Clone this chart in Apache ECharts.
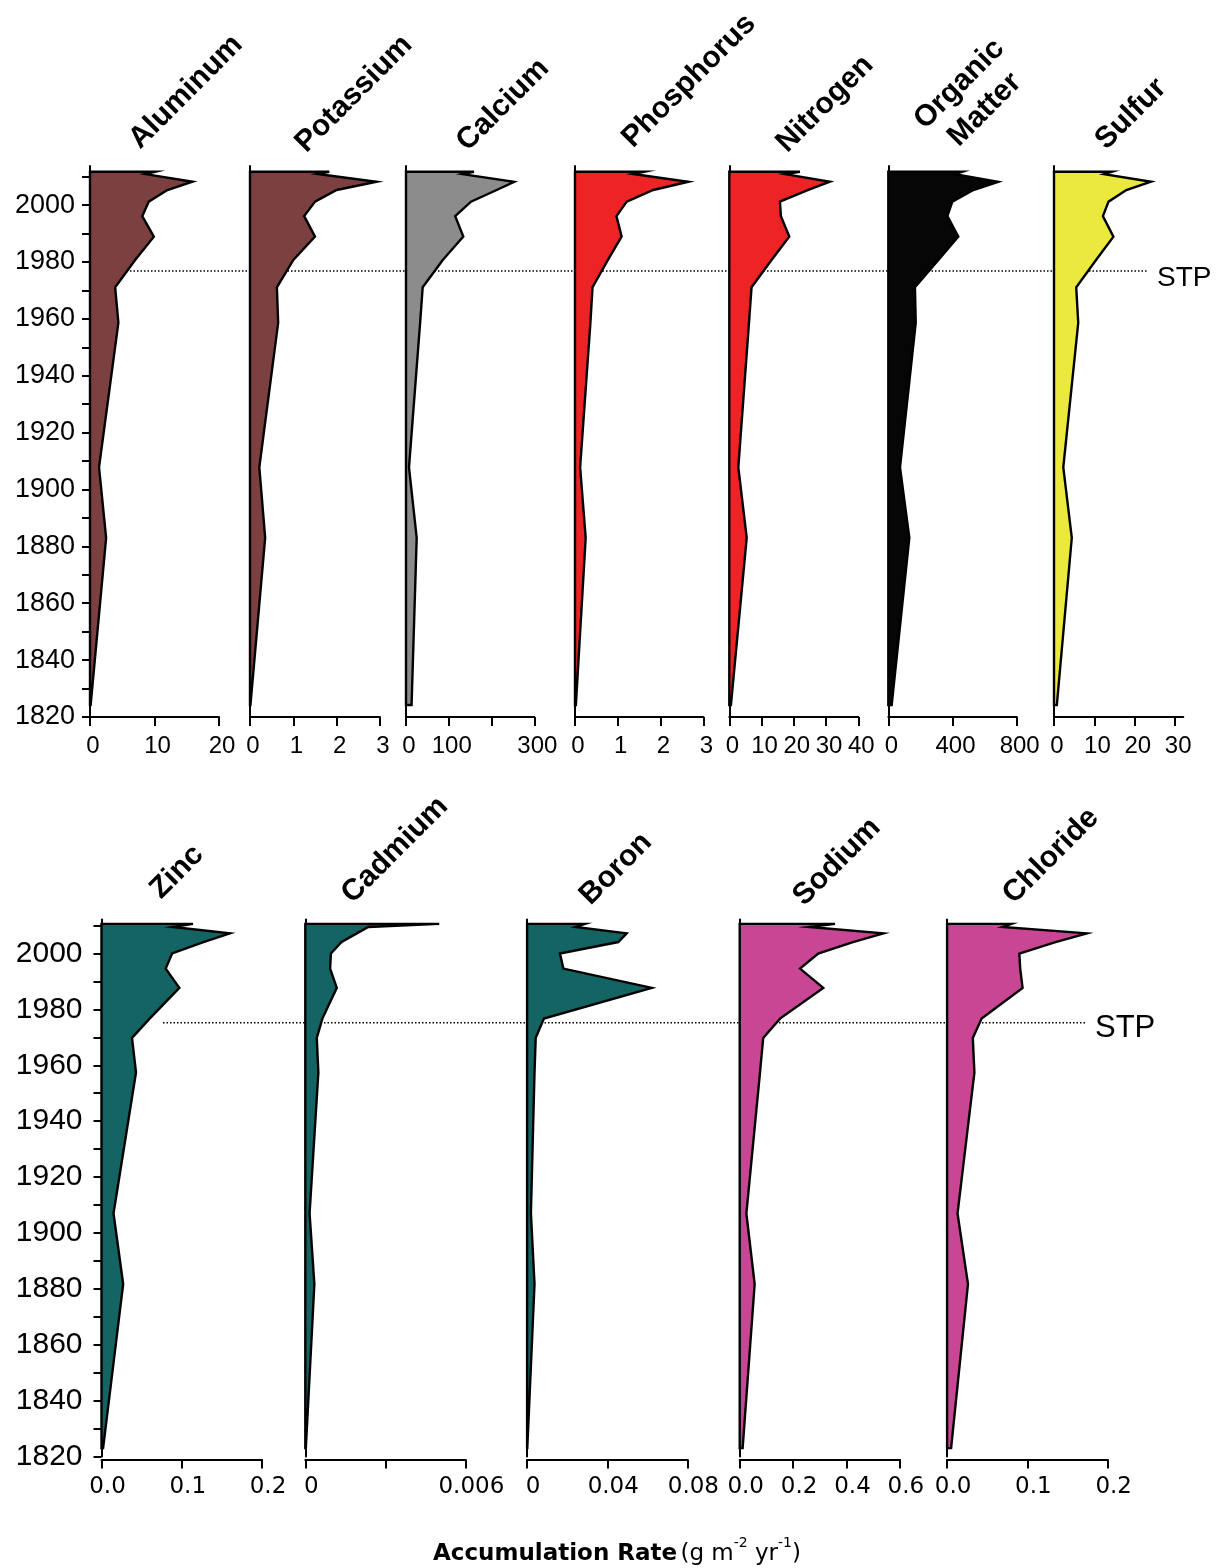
<!DOCTYPE html>
<html>
<head>
<meta charset="utf-8">
<title>Accumulation rates</title>
<script src="https://cdn.jsdelivr.net/npm/echarts@6/dist/echarts.min.js"></script>
<style>
  html, body { margin: 0; padding: 0; background: #fff; }
  #chart { width: 1217px; height: 1568px; }
</style>
</head>
<body>
<div id="chart"></div>
<script>
// sample dates as drawn in each row
var topYears = [2011.7, 2010.9, 2008.2, 2005.3, 2001.2, 1996.1, 1988.9, 1980.7, 1971.1, 1958.6, 1907.8, 1883.0, 1824.2];
var bottomYears = [2010.6, 2009.5, 2007.2, 2004.1, 2000.0, 1994.6, 1987.7, 1976.7, 1969.8, 1957.4, 1907.0, 1881.7, 1823.0];

// accumulation rates (g m-2 yr-1)
var aluminum = [10.1, 8.6, 15.9, 12.0, 9.1, 8.1, 9.9, 7.0, 3.9, 4.4, 1.4, 2.5, 0.1];
var potassium = [1.83, 1.56, 2.92, 2.0, 1.5, 1.25, 1.5, 1.0, 0.62, 0.65, 0.215, 0.35, 0.01];
var calcium = [159, 132, 253, 212, 152, 115, 134, 86, 39, 33, 7, 25, 13];
var phosphorus = [1.62, 1.36, 2.65, 1.83, 1.21, 0.97, 1.09, 0.77, 0.41, 0.36, 0.12, 0.25, 0.02];
var nitrogen = [21.9, 17.3, 31.2, 24.5, 15.7, 16.0, 18.6, 13.1, 6.9, 6.1, 2.8, 5.4, 0.5];
var organicMatter = [461, 416, 685, 530, 399, 368, 436, 312, 166, 171, 73, 131, 21];
var sulfur = [14.3, 12.4, 24.0, 17.9, 13.5, 12.1, 14.7, 10.4, 5.5, 6.0, 2.3, 4.4, 0.7];

var zinc = [0.114, 0.089, 0.160, 0.127, 0.088, 0.080, 0.097, 0.060, 0.038, 0.043, 0.015, 0.027, 0.002];
var cadmium = [0.00502, 0.00236, 0.00193, 0.00136, 0.00096, 0.00093, 0.00118, 0.00064, 0.00043, 0.00049, 0.00016, 0.00034, 0.00002];
var boron = [0.0289, 0.0242, 0.0497, 0.0455, 0.0164, 0.0181, 0.0622, 0.0084, 0.0043, 0.0037, 0.0019, 0.0037, 0.0001];
var sodium = [0.357, 0.261, 0.538, 0.424, 0.294, 0.226, 0.313, 0.151, 0.088, 0.076, 0.025, 0.056, 0.011];
var chloride = [0.080, 0.069, 0.174, 0.135, 0.090, 0.091, 0.094, 0.043, 0.032, 0.034, 0.013, 0.026, 0.005];

// axis ticks
var yearTicks = [1820, 1830, 1840, 1850, 1860, 1870, 1880, 1890, 1900, 1910, 1920, 1930, 1940, 1950, 1960, 1970, 1980, 1990, 2000, 2010];
var yearLabels = [1820, 1840, 1860, 1880, 1900, 1920, 1940, 1960, 1980, 2000];
var aluminumTicks = [0, 10, 20];
var potassiumTicks = [0, 1, 2, 3];
var calciumTicks = [0, 100, 200, 300];
var calciumLabels = [0, 100, 300];
var phosphorusTicks = [0, 1, 2, 3];
var nitrogenTicks = [0, 10, 20, 30, 40];
var organicTicks = [0, 400, 800];
var sulfurTicks = [0, 10, 20, 30];
var zincTicks = [0, 0.1, 0.2];
var cadmiumTicks = [0, 0.003, 0.006];
var cadmiumLabels = [0, 0.006];
var boronTicks = [0, 0.04, 0.08];
var sodiumTicks = [0, 0.2, 0.4, 0.6];
var chlorideTicks = [0, 0.1, 0.2];

// stratigraphic turning point (STP) year in each row
var stpTop = 1976.8;
var stpBottom = 1975.2;

var plain = function (v) { return String(v); };
var oneDec = function (v) { return v.toFixed(1); };

var rows = [
  { top: 166.1, height: 550.9, max: 2013.7, years: topYears, yFont: 27, xFont: 24, xFamily: 'Liberation Sans', yMargin: 15, xMargin: 17, pad: 6, offset: 0 },
  { top: 919.4, height: 537.1, max: 2012.2, years: bottomYears, yFont: 30, xFont: 23, xFamily: 'DejaVu Sans', yMargin: 19, xMargin: 16, pad: 12, offset: 3 }
];

var panels = [
  { row: 0, title: 'Aluminum', cx: 186, cy: 92, data: aluminum, color: '#7c4041', left: 90, width: 129, max: 20, ticks: aluminumTicks, labels: aluminumTicks, fmt: plain, yLabels: true },
  { row: 0, title: 'Potassium', cx: 354, cy: 94, data: potassium, color: '#7c4041', left: 250, width: 130, max: 3, ticks: potassiumTicks, labels: potassiumTicks, fmt: plain },
  { row: 0, title: 'Calcium', cx: 503, cy: 105, data: calcium, color: '#8c8c8c', left: 406, width: 128.3, max: 300, ticks: calciumTicks, labels: calciumLabels, fmt: plain },
  { row: 0, title: 'Phosphorus', cx: 689, cy: 81, data: phosphorus, color: '#ee2326', left: 575, width: 128.3, max: 3, ticks: phosphorusTicks, labels: phosphorusTicks, fmt: plain },
  { row: 0, title: 'Nitrogen', cx: 825, cy: 104, data: nitrogen, color: '#ee2326', left: 729.3, width: 129, max: 40, ticks: nitrogenTicks, labels: nitrogenTicks, fmt: plain },
  { row: 0, title: 'Organic\nMatter', cx: 972, cy: 97, data: organicMatter, color: '#060606', left: 888.3, width: 128.4, max: 800, ticks: organicTicks, labels: organicTicks, fmt: plain },
  { row: 0, title: 'Sulfur', cx: 1131, cy: 114, data: sulfur, color: '#ece93e', left: 1054, width: 129.3, max: 32, ticks: sulfurTicks, labels: sulfurTicks, fmt: plain },
  { row: 1, title: 'Zinc', cx: 177, cy: 872, data: zinc, color: '#136462', left: 101.5, width: 160.5, max: 0.2, ticks: zincTicks, labels: zincTicks, fmt: oneDec, yLabels: true },
  { row: 1, title: 'Cadmium', cx: 395, cy: 850, data: cadmium, color: '#136462', left: 305.3, width: 160.1, max: 0.006, ticks: cadmiumTicks, labels: cadmiumLabels, fmt: plain },
  { row: 1, title: 'Boron', cx: 616, cy: 869, data: boron, color: '#136462', left: 527.1, width: 160.3, max: 0.08, ticks: boronTicks, labels: boronTicks, fmt: plain },
  { row: 1, title: 'Sodium', cx: 837, cy: 862, data: sodium, color: '#c94695', left: 739.7, width: 160.2, max: 0.6, ticks: sodiumTicks, labels: sodiumTicks, fmt: oneDec },
  { row: 1, title: 'Chloride', cx: 1051, cy: 856, data: chloride, color: '#c94695', left: 947.1, width: 160.6, max: 0.2, ticks: chlorideTicks, labels: chlorideTicks, fmt: oneDec }
];

var grids = [], xAxes = [], yAxes = [], series = [], graphics = [];

panels.forEach(function (p, i) {
  var r = rows[p.row];
  grids.push({ left: p.left, top: r.top, width: p.width, height: r.height });
  xAxes.push({
    gridIndex: i, type: 'value', min: 0, max: p.max, position: 'bottom', offset: r.offset,
    axisLine: { show: true, onZero: false, lineStyle: { color: '#000', width: 2 } },
    axisTick: { show: true, length: 9, customValues: p.ticks, lineStyle: { color: '#000', width: 2 } },
    axisLabel: {
      customValues: p.labels, formatter: p.fmt, color: '#000', fontSize: r.xFont,
      fontFamily: r.xFamily, margin: r.xMargin, padding: [0, 0, 0, r.pad]
    },
    splitLine: { show: false }
  });
  yAxes.push({
    gridIndex: i, type: 'value', min: 1820, max: r.max, position: 'left',
    axisLine: { show: true, onZero: false, lineStyle: { color: '#000', width: 2 } },
    axisTick: { show: !!p.yLabels, length: 8, customValues: yearTicks, lineStyle: { color: '#000', width: 2 } },
    axisLabel: {
      show: !!p.yLabels, customValues: yearLabels, formatter: plain, color: '#000', fontSize: r.yFont,
      fontFamily: 'Liberation Sans', margin: r.yMargin
    },
    splitLine: { show: false }
  });
  var years = r.years, vals = p.data, color = p.color;
  series.push({
    type: 'custom', xAxisIndex: i, yAxisIndex: i, z: 5, clip: false,
    data: vals.map(function (v, k) { return [v, years[k]]; }),
    encode: { x: 0, y: 1 },
    renderItem: function (params, api) {
      if (params.dataIndex !== 0) return null;
      var pts = [api.coord([0, years[0]])];
      for (var k = 0; k < vals.length; k++) pts.push(api.coord([vals[k], years[k]]));
      pts.push(api.coord([0, years[years.length - 1]]));
      return {
        type: 'polygon',
        shape: { points: pts },
        style: { fill: color, stroke: '#000', lineWidth: 2.4, lineJoin: 'miter' }
      };
    }
  });
  graphics.push({
    type: 'text', x: p.cx, y: p.cy, rotation: Math.PI / 4,
    style: {
      text: p.title, x: 0, y: 0, align: 'center', verticalAlign: 'middle',
      font: 'bold 30px "Liberation Sans", Arial, sans-serif', lineHeight: 36, fill: '#000'
    }
  });
});

// dotted STP lines, one per row, on their own grids sharing the row's year scale
var stpSetups = [
  { row: 0, year: stpTop, left: 123, width: 1024, font: 28, dy: 7 },
  { row: 1, year: stpBottom, left: 163, width: 922, font: 31, dy: 6 }
];
stpSetups.forEach(function (s) {
  var r = rows[s.row];
  var gi = grids.length;
  grids.push({ left: s.left, top: r.top, width: s.width, height: r.height });
  xAxes.push({ gridIndex: gi, type: 'value', min: 0, max: 1, show: false });
  yAxes.push({ gridIndex: gi, type: 'value', min: 1820, max: r.max, show: false });
  series.push({
    type: 'line', xAxisIndex: gi, yAxisIndex: gi, z: 1, symbol: 'none', silent: true,
    data: [[0, s.year], [1, s.year]],
    lineStyle: { color: '#000', width: 1.5, type: [1.5, 2] },
    endLabel: {
      show: true, formatter: 'STP', color: '#000', fontSize: s.font,
      fontFamily: 'Liberation Sans', distance: 10, offset: [0, s.dy]
    }
  });
});

graphics.push({
  type: 'text', x: 617, y: 1551,
  style: {
    text: '{b|Accumulation Rate} {n|(g m}{s|-2}{n| yr}{s|-1}{n|)}',
    align: 'center', verticalAlign: 'middle', fill: '#000',
    rich: {
      b: { fontFamily: 'DejaVu Sans', fontWeight: 'bold', fontSize: 23, lineHeight: 29, verticalAlign: 'bottom' },
      n: { fontFamily: 'DejaVu Sans', fontSize: 23, lineHeight: 29, verticalAlign: 'bottom' },
      s: { fontFamily: 'DejaVu Sans', fontSize: 14, lineHeight: 29, verticalAlign: 'top' }
    }
  }
});

var chart = echarts.init(document.getElementById('chart'), null, { renderer: 'canvas' });
chart.setOption({
  animation: false,
  backgroundColor: '#fff',
  grid: grids,
  xAxis: xAxes,
  yAxis: yAxes,
  series: series,
  graphic: graphics
});
</script>
</body>
</html>
